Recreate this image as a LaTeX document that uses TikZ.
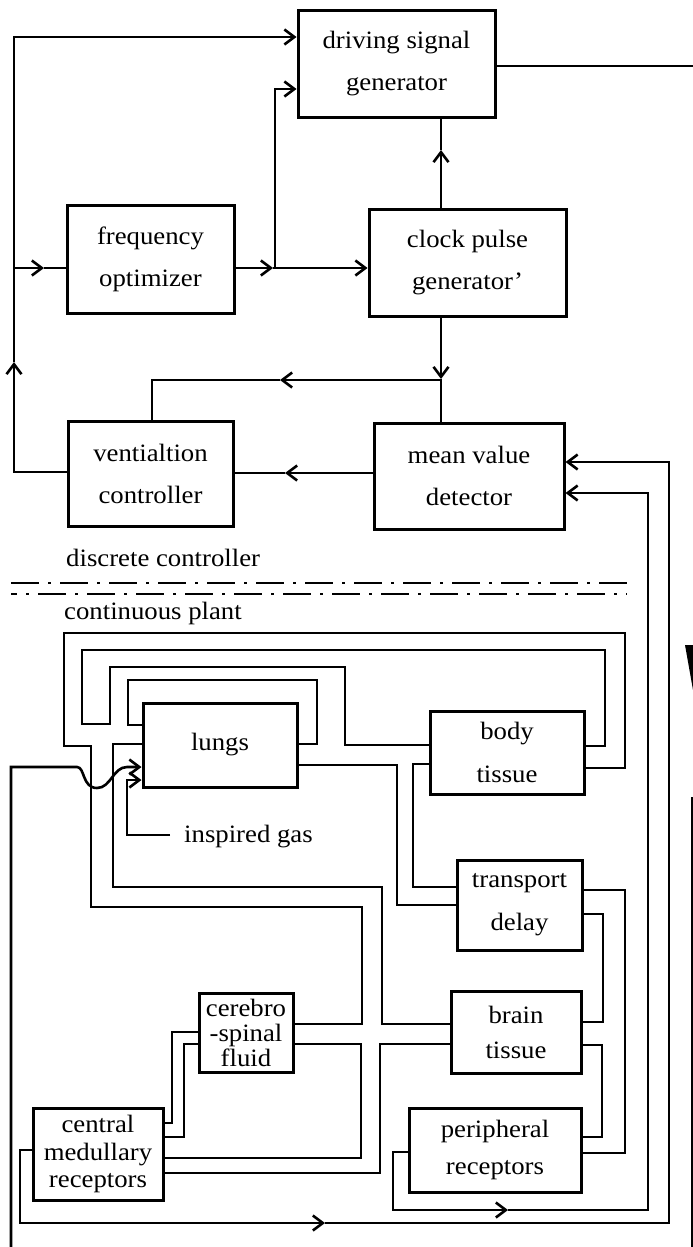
\documentclass[tikz,border=0pt]{standalone}
\usepackage{fontspec}
\setmainfont{Liberation Serif}[FakeStretch=1.07]
\usetikzlibrary{arrows.meta}
\begin{document}
\begin{tikzpicture}[x=1pt,y=-1pt,
  blk/.style={draw, line width=3pt, inner sep=0pt, align=center, font=\fontsize{25}{#1}\selectfont},
  blk/.default=42,
  cn/.style={line width=2.6pt},
  tip/.style={-{Straight Barb[length=10pt,width=15pt]}},
  lbl/.style={font=\fontsize{25}{30}\selectfont, inner sep=0pt, anchor=base west},
  dashdot2/.style={line width=2.6pt, dash pattern=on 28pt off 9pt on 3pt off 9pt}
]
\fill[white] (0,0) rectangle (693,1247);
\useasboundingbox (0,0) rectangle (693,1247);

% ---------- boxes ----------
\node[blk, minimum width=197, minimum height=106] (dsg) at (396.5,64) {driving signal\\generator};
\node[blk, minimum width=167, minimum height=108] (fo) at (150.5,259) {frequency\\optimizer};
\node[blk, minimum width=197, minimum height=107] (cpg) at (467.5,262.5) {clock pulse\\generator'};
\node[blk, minimum width=165, minimum height=105] (vc) at (150.5,473.5) {ventialtion\\controller};
\node[blk, minimum width=190, minimum height=106] (mvd) at (469,476) {mean value\\detector};
\node[blk, minimum width=154, minimum height=84] (lungs) at (220,745) {lungs};
\node[blk=43, minimum width=154, minimum height=83] (body) at (507,752.5) {body\\tissue};
\node[blk=43, minimum width=125, minimum height=90] (td) at (519.5,905) {transport\\delay};
\node[blk=35, minimum width=130, minimum height=82] (brain) at (516,1032) {brain\\tissue};
\node[blk=25, minimum width=94, minimum height=79] (csf) at (246,1032.5) {cerebro\\-spinal\\fluid};
\node[blk=27.5, minimum width=130, minimum height=92] (cmr) at (98,1154) {central\\medullary\\receptors};
\node[blk=37, minimum width=172, minimum height=84] (pr) at (495,1150) {peripheral\\receptors};

% ---------- labels ----------
\node[lbl] (dc) at (66,566) {discrete controller};
\node[lbl] (cp) at (64,619) {continuous plant};
\node[lbl] (ig) at (184,842) {inspired gas};

% ---------- controller connectors ----------
\draw[cn,tip] (vc.west |- 0,472) -- (14,472) -- (14,362);
\draw[cn,tip] (14,362) -- (14,37) -- (dsg.west |- 0,37);
\draw[cn,tip] (14,268) -- (44,268);
\draw[cn] (44,268) -- (fo.west |- 0,268);
\draw[cn,tip] (fo.east |- 0,268) -- (273,268);
\draw[cn,tip] (273,268) -- (cpg.west |- 0,268);
\draw[cn,tip] (275,268) -- (275,89) -- (dsg.west |- 0,89);
\draw[cn,tip] (cpg.north -| 441,0) -- (441,150);
\draw[cn] (441,150) -- (dsg.south -| 441,0);
\draw[cn,tip] (cpg.south -| 441,0) -- (441,379);
\draw[cn] (441,379) -- (mvd.north -| 441,0);
\draw[cn,tip] (441,380) -- (280,380);
\draw[cn] (280,380) -- (152,380) -- (vc.north -| 152,0);
\draw[cn,tip] (mvd.west |- 0,473) -- (285,473);
\draw[cn] (285,473) -- (vc.east |- 0,473);
\draw[cn] (dsg.east |- 0,66) -- (693,66);

% feedback to mean value detector
\draw[cn,tip] (cmr.west |- 0,1150) -- (20,1150) -- (20,1223) -- (325,1223);
\draw[cn,tip] (325,1223) -- (669,1223) -- (669,462) -- (mvd.east |- 0,462);
\draw[cn,tip] (pr.west |- 0,1152) -- (393,1152) -- (393,1210) -- (508,1210);
\draw[cn,tip] (508,1210) -- (648,1210) -- (648,493) -- (mvd.east |- 0,493);

% separator
\draw[dashdot2] (11,583) -- (627,583);
\draw[dashdot2, dash phase=22pt] (11,594) -- (627,594);

% ---------- plant connectors ----------
\draw[cn] (body.east |- 0,768) -- (625,768) -- (625,633) -- (64,633) -- (64,746) -- (91,746) -- (91,907) -- (362,907) -- (362,1024) -- (csf.east |- 0,1024);
\draw[cn] (body.east |- 0,746) -- (605,746) -- (605,650) -- (82,650) -- (82,724) -- (110,724) -- (110,667) -- (345,667) -- (345,745) -- (body.west |- 0,745);
\draw[cn] (lungs.east |- 0,744) -- (317,744) -- (317,680) -- (128,680) -- (128,725) -- (lungs.west |- 0,725);
\draw[cn] (lungs.west |- 0,744) -- (113,744) -- (113,887) -- (382,887) -- (382,1024) -- (brain.west |- 0,1024);
\draw[cn] (lungs.east |- 0,765) -- (397,765) -- (397,905) -- (td.west |- 0,905);
\draw[cn] (body.west |- 0,764) -- (413,764) -- (413,887) -- (td.west |- 0,887);
\draw[cn] (td.east |- 0,890) -- (625,890) -- (625,1153) -- (pr.east |- 0,1153);
\draw[cn] (td.east |- 0,914) -- (603,914) -- (603,1022) -- (brain.east |- 0,1022);
\draw[cn] (brain.east |- 0,1045) -- (602,1045) -- (602,1137) -- (pr.east |- 0,1137);
\draw[cn] (brain.west |- 0,1044) -- (380,1044) -- (380,1173) -- (cmr.east |- 0,1173);
\draw[cn] (csf.east |- 0,1044) -- (361,1044) -- (361,1158) -- (cmr.east |- 0,1158);
\draw[cn] (csf.west |- 0,1032) -- (172,1032) -- (172,1123) -- (cmr.east |- 0,1123);
\draw[cn] (csf.west |- 0,1044) -- (184,1044) -- (184,1137) -- (cmr.east |- 0,1137);

% inspired gas
\coordinate (igend) at (170,835);
\draw[cn,tip] (igend) -- (127,835) -- (127,780) -- (lungs.west |- 0,780);

% ventilator input to lungs (with hop)
\coordinate (vin) at (11,1247);
\draw[cn,tip] (vin) -- (11,767) -- (77,767) .. controls (85,767) and (82,788) .. (97,788) .. controls (111,788) and (113,767) .. (127,767) -- (lungs.west |- 0,767);

% clipped marks at right edge
\fill (685,645) -- (693,645) -- (693,690) -- cycle;
\draw[line width=2.6pt] (692,797) -- (692,1247);
\end{tikzpicture}
\end{document}
